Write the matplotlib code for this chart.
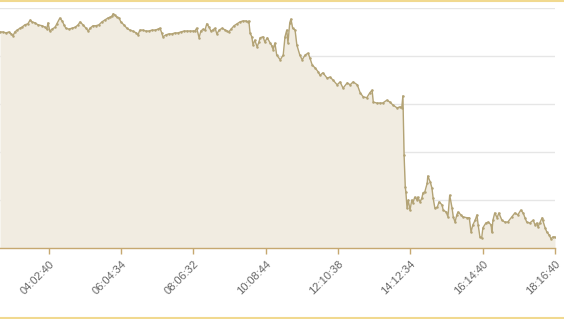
import matplotlib
matplotlib.use("Agg")
import matplotlib.pyplot as plt
from matplotlib.lines import Line2D

# time of each sample, minutes after midnight
times = [160, 165, 170, 175, 179, 182, 185, 189, 194, 197, 202, 207, 211, 214, 219, 224,
         231, 236, 239, 241, 244, 248, 253, 256, 261, 265, 268, 271, 276, 282, 287, 292,
         295, 300, 305, 309, 312, 317, 322, 327, 332, 337, 342, 346, 349, 351, 354, 357,
         361, 364, 369, 374, 379, 384, 390, 393, 396, 401, 406, 411, 417, 422, 427, 430,
         433, 435, 440, 445, 450, 455, 460, 465, 471, 476, 481, 486, 489, 492, 496, 499,
         503, 506, 509, 513, 516, 519, 523, 526, 530, 535, 540, 543, 546, 550, 555, 560,
         565, 570, 575, 579, 580, 582, 585, 587, 590, 594, 597, 599, 604, 607, 611, 616,
         619, 621, 624, 627, 633, 638, 641, 644, 646, 649, 651, 654, 658, 661, 666, 670,
         675, 680, 683, 687, 692, 697, 700, 705, 712, 717, 722, 729, 734, 739, 746, 751,
         756, 763, 768, 773, 779, 784, 788, 790, 796, 801, 806, 813, 818, 823, 830, 835,
         838, 840, 842, 844, 845, 847, 849, 852, 855, 857, 860, 864, 865, 869, 872, 874,
         877, 881, 882, 886, 889, 891, 894, 898, 901, 906, 908, 913, 916, 919, 923, 925,
         928, 931, 933, 938, 941, 948, 952, 955, 958, 962, 965, 967, 970, 973, 975, 980,
         984, 989, 990, 992, 995, 999, 1002, 1007, 1012, 1017, 1024, 1029, 1034, 1039, 1043, 1046,
         1049, 1054, 1060, 1063, 1066, 1068, 1071, 1075, 1076, 1080, 1083, 1087, 1090, 1093, 1096.67]

values = [45.0, 45.0, 44.8, 45.0, 44.6, 44.2, 45.0, 45.4, 45.8, 46.0, 46.5, 46.7, 47.5, 47.1, 46.9, 46.5,
          46.3, 46.0, 45.6, 46.9, 45.2, 45.6, 46.0, 46.7, 47.9, 47.3, 46.5, 45.8, 45.6, 45.8, 46.0, 46.5,
          47.1, 46.5, 45.8, 45.2, 45.8, 46.3, 46.3, 46.5, 47.1, 47.5, 47.9, 48.1, 48.3, 48.8, 48.5, 48.1,
          47.9, 47.1, 46.5, 45.8, 45.4, 45.2, 44.8, 44.4, 45.4, 45.4, 45.2, 45.2, 45.4, 45.4, 45.6, 45.8,
          44.8, 44.0, 44.4, 44.6, 44.6, 44.8, 44.8, 45.0, 45.2, 45.2, 45.2, 45.2, 45.2, 45.8, 43.8, 45.2,
          45.6, 45.4, 46.7, 46.0, 45.2, 45.4, 45.8, 44.6, 45.4, 45.8, 45.4, 45.2, 45.0, 45.6, 46.3, 46.7,
          47.1, 47.3, 47.3, 47.1, 47.3, 44.8, 44.0, 42.3, 43.3, 41.9, 42.9, 43.8, 44.0, 42.9, 43.8, 42.7,
          42.1, 41.3, 42.7, 40.2, 39.2, 40.2, 44.0, 45.4, 42.7, 46.9, 47.7, 45.8, 45.4, 42.3, 40.2, 39.2,
          40.2, 40.6, 39.6, 38.1, 37.5, 36.7, 36.0, 36.5, 35.4, 35.6, 35.0, 34.0, 34.6, 33.3, 34.4, 34.0,
          34.6, 34.0, 32.3, 31.5, 31.3, 32.3, 32.9, 30.4, 30.2, 30.2, 30.2, 30.8, 30.4, 29.8, 29.2, 29.4,
          29.2, 31.7, 19.4, 12.7, 11.7, 8.3, 10.0, 7.9, 10.0, 9.4, 10.6, 10.0, 10.6, 9.6, 10.4, 11.5,
          11.7, 13.5, 15.0, 13.8, 12.5, 10.4, 8.3, 8.5, 9.6, 9.0, 7.9, 7.5, 6.5, 11.0, 8.3, 6.5,
          5.4, 6.9, 7.5, 6.9, 6.5, 6.3, 6.3, 3.3, 4.8, 5.8, 6.9, 4.8, 2.3, 2.1, 4.2, 5.2,
          5.4, 4.8, 3.3, 5.8, 7.3, 6.3, 7.3, 5.8, 5.4, 5.4, 6.5, 7.3, 6.9, 7.9, 7.3, 6.3,
          5.4, 5.2, 5.8, 4.8, 5.2, 4.4, 5.2, 6.3, 5.8, 4.2, 3.3, 2.7, 1.9, 2.3, 2.3]

tick_labels = ["04:02:40", "06:04:34", "08:06:32", "10:08:44",
               "12:10:38", "14:12:34", "16:14:40", "18:16:40"]


def to_minutes(s):
    h, m, sec = (int(p) for p in s.split(":"))
    return h * 60 + m + sec / 60.0


tick_pos = [to_minutes(s) for s in tick_labels]

fig = plt.figure(figsize=(5.64, 3.19), dpi=100)
ax = fig.add_axes([0.0, 0.2226, 0.984, 0.7524])

line_c = "#b3a375"
fill_c = "#f1ece1"
axis_c = "#c6a870"

ax.fill_between(times, values, 0, color=fill_c, linewidth=0, zorder=1)
ax.plot(times, values, color=line_c, lw=1.0, marker="o", ms=1.8, mew=0, zorder=3)

ax.set_xlim(160, tick_pos[-1])
ax.set_ylim(0, 50)
ax.set_yticks([0, 10, 20, 30, 40, 50])
ax.yaxis.grid(True, color="#e6e6e6", lw=1.0, zorder=0)
ax.set_axisbelow(True)
ax.tick_params(axis="y", left=False, labelleft=False)

for side in ("top", "right", "left"):
    ax.spines[side].set_visible(False)
ax.spines["bottom"].set_color(axis_c)
ax.spines["bottom"].set_linewidth(1.0)

ax.set_xticks(tick_pos)
ax.set_xticklabels(tick_labels, rotation=45, ha="right", rotation_mode="anchor",
                   fontsize=8, color="#666666", family="Liberation Sans")
ax.tick_params(axis="x", color=axis_c, length=4, width=1, pad=4)

# thin golden frame lines at top and bottom of the figure
fig.add_artist(Line2D([0, 1], [0.998, 0.998], transform=fig.transFigure,
                      color="#f1d98f", lw=1.5))
fig.add_artist(Line2D([0, 1], [0.002, 0.002], transform=fig.transFigure,
                      color="#f1d98f", lw=1.5))

fig.savefig("out.png", dpi=100, facecolor="white")
